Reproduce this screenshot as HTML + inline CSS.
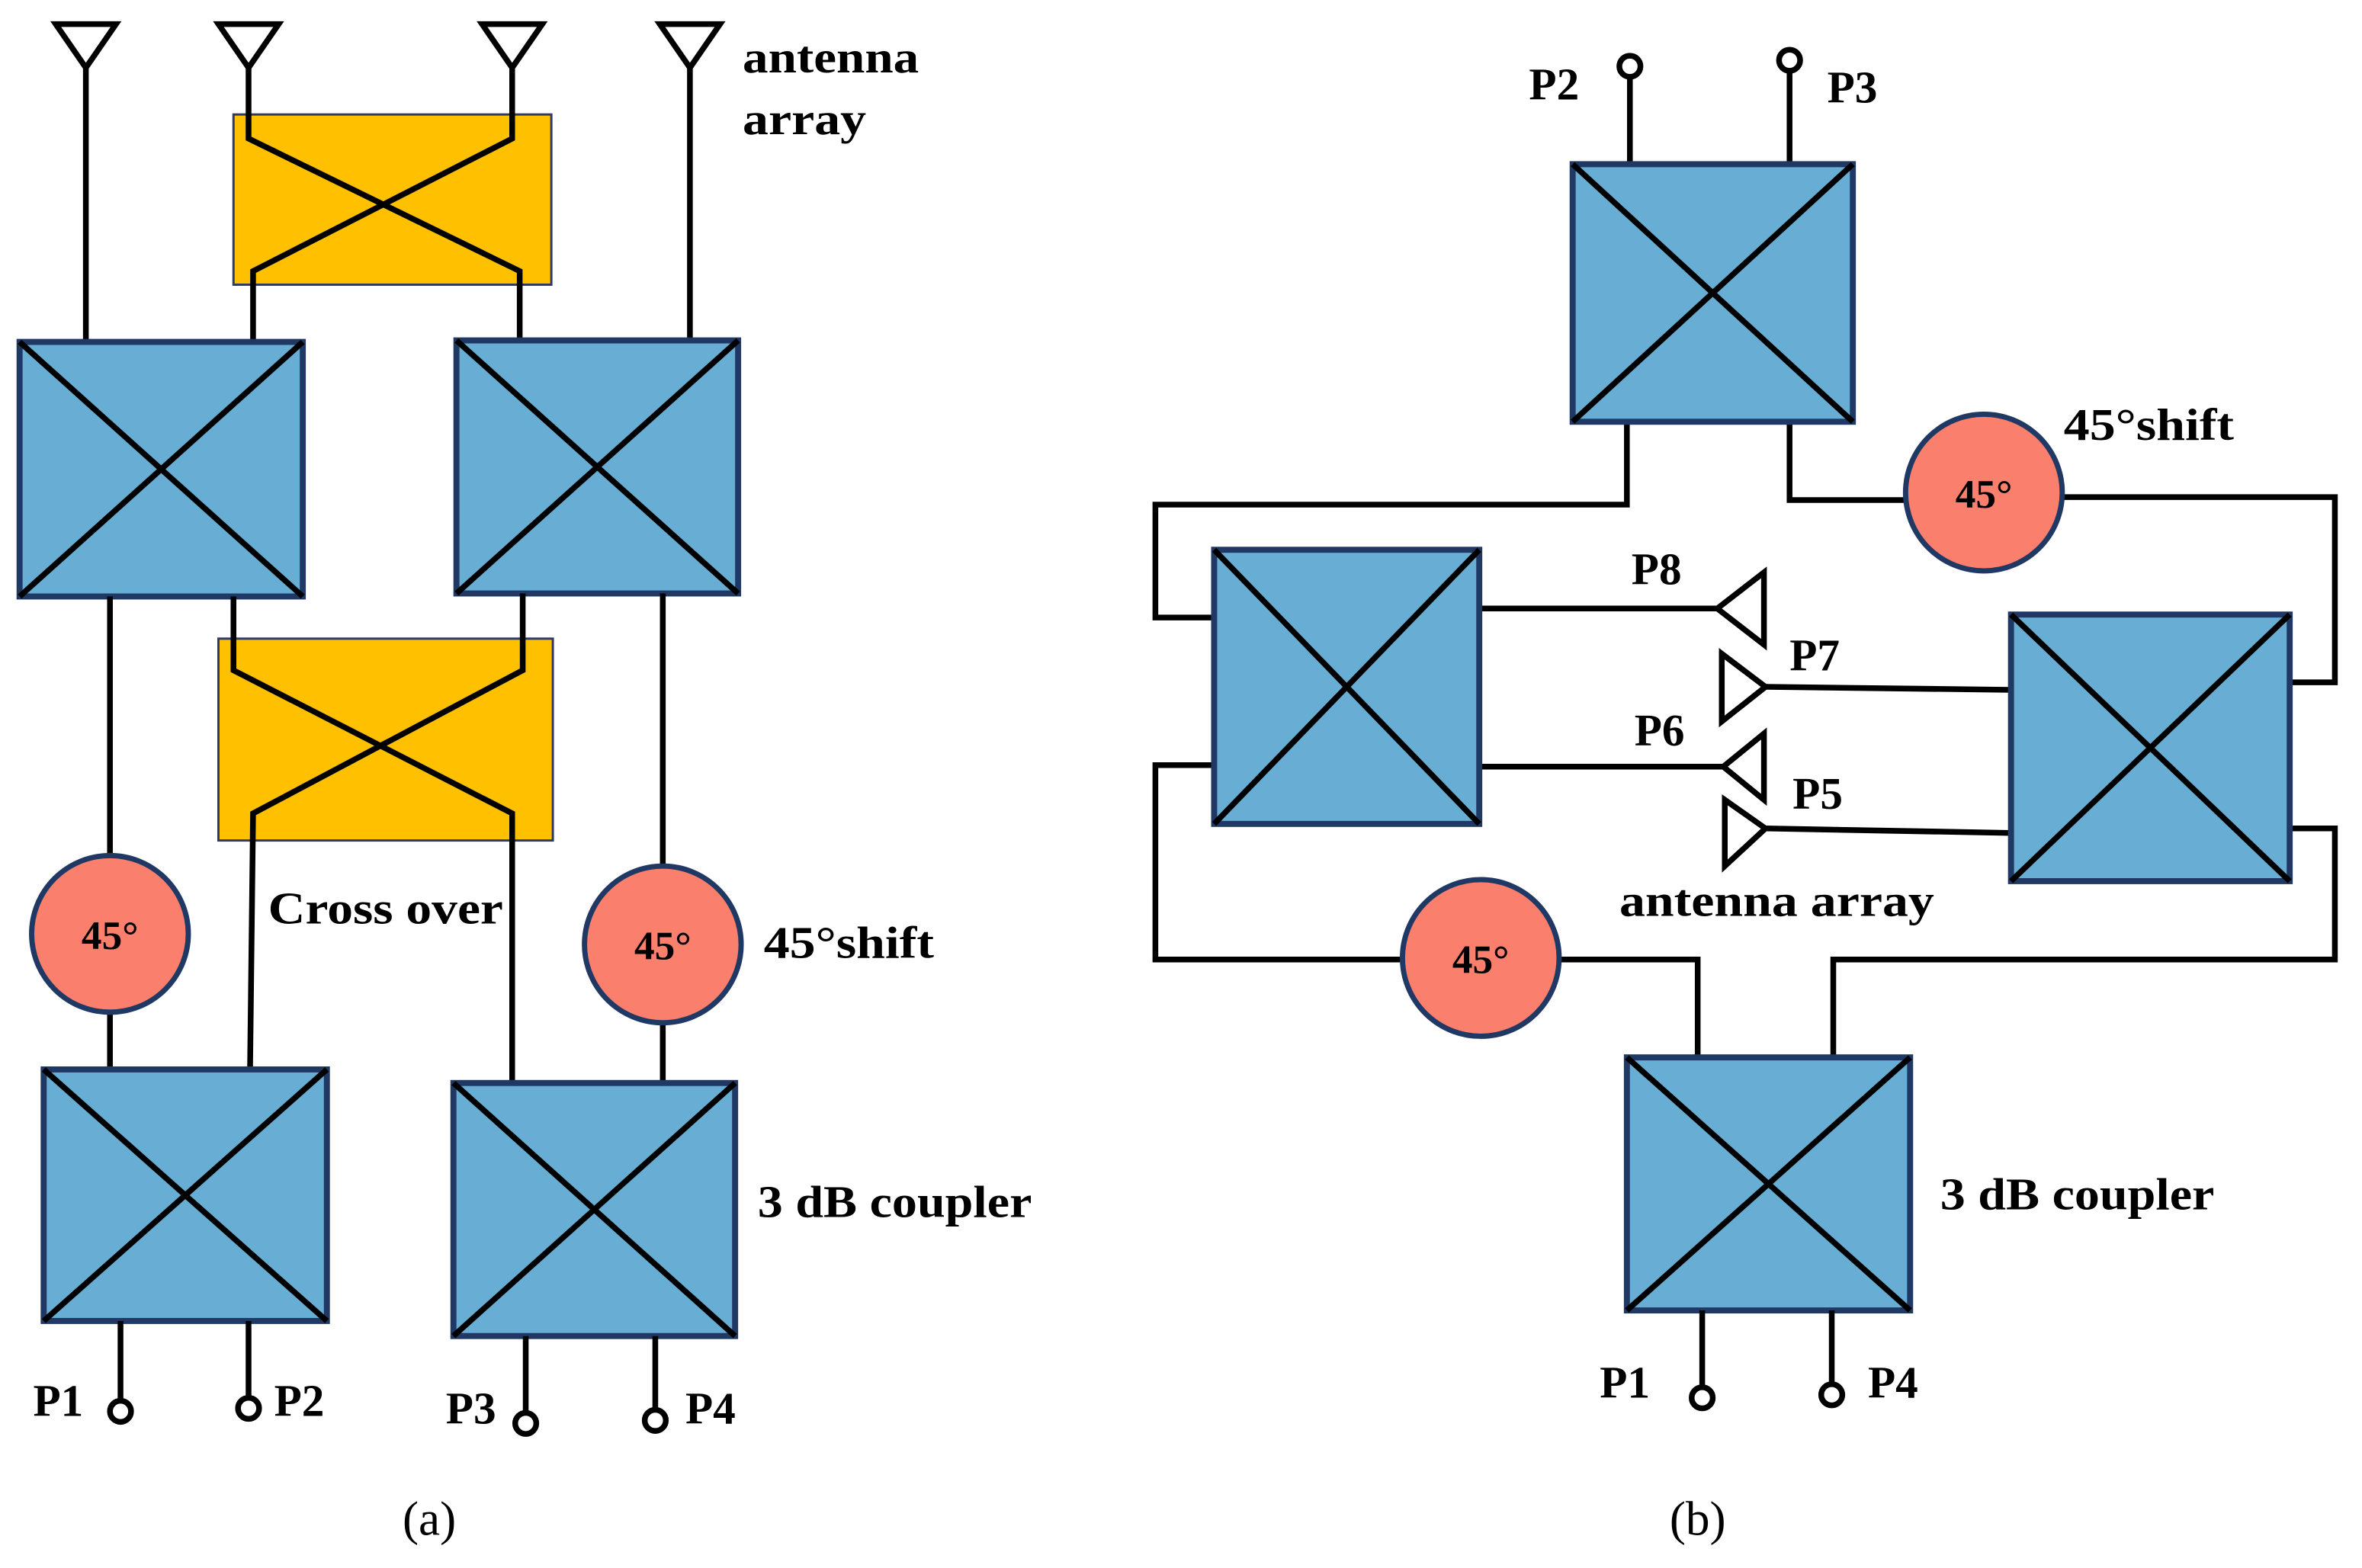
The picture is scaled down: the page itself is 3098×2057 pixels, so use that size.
<!DOCTYPE html>
<html><head><meta charset="utf-8"><style>
html,body{margin:0;padding:0;background:#fff;}
svg{display:block;}
text{font-family:"Liberation Serif",serif;font-weight:bold;fill:#000;}
</style></head><body>
<svg width="3098" height="2057" viewBox="0 0 1568 1041" preserveAspectRatio="none" xmlns="http://www.w3.org/2000/svg">
<g stroke="#000" stroke-width="3.8" fill="none" stroke-linejoin="miter">
<polygon points="37,16 77,16 57,45"/><polygon points="145,16 185,16 165,45"/>
<polygon points="320,16 360,16 340,45"/><polygon points="438,16 478,16 458,45"/>
<line x1="57" y1="45" x2="57" y2="228"/><line x1="458" y1="45" x2="458" y2="228"/>
<rect x="155" y="76" width="211" height="113" fill="#FFC000" stroke="#2E3B5E" stroke-width="1.5"/>
<polyline points="165,45 165,92 345,180 345,228"/>
<polyline points="340,45 340,92 168,180 168,228"/>
<rect x="13" y="227" width="188" height="169" fill="#68AED4" stroke="#1F3864" stroke-width="4"/>
<line x1="13" y1="227" x2="201" y2="396"/><line x1="201" y1="227" x2="13" y2="396"/>
<rect x="303" y="226" width="187" height="168" fill="#68AED4" stroke="#1F3864" stroke-width="4"/>
<line x1="303" y1="226" x2="490" y2="394"/><line x1="490" y1="226" x2="303" y2="394"/>
<rect x="145" y="424" width="222" height="134" fill="#FFC000" stroke="#2E3B5E" stroke-width="1.5"/>
<polyline points="155,396 155,445 340,540 340,719"/>
<polyline points="347,394 347,445 168,540 166,710"/>
<line x1="73" y1="396" x2="73" y2="568"/><line x1="73" y1="672" x2="73" y2="710"/>
<line x1="440" y1="394" x2="440" y2="575"/><line x1="440" y1="679" x2="440" y2="719"/>
<circle cx="73" cy="620" r="52" fill="#FA7F6C" stroke="#1F3864" stroke-width="3.5"/>
<circle cx="440" cy="627" r="52" fill="#FA7F6C" stroke="#1F3864" stroke-width="3.5"/>
<rect x="29" y="710" width="188" height="167" fill="#68AED4" stroke="#1F3864" stroke-width="4"/>
<line x1="29" y1="710" x2="217" y2="877"/><line x1="217" y1="710" x2="29" y2="877"/>
<rect x="301" y="719" width="187" height="168" fill="#68AED4" stroke="#1F3864" stroke-width="4"/>
<line x1="301" y1="719" x2="488" y2="887"/><line x1="488" y1="719" x2="301" y2="887"/>
<line x1="80" y1="877" x2="80" y2="930"/><circle cx="80" cy="937" r="7"/>
<line x1="165" y1="877" x2="165" y2="928"/><circle cx="165" cy="935" r="7"/>
<line x1="349" y1="887" x2="349" y2="938"/><circle cx="349" cy="945" r="7"/>
<line x1="435" y1="887" x2="435" y2="936"/><circle cx="435" cy="943" r="7"/>

<line x1="1082" y1="109" x2="1082" y2="51"/><circle cx="1082" cy="44" r="7"/>
<line x1="1188" y1="109" x2="1188" y2="47"/><circle cx="1188" cy="40" r="7"/>
<polyline points="1080,280 1080,335 767,335 767,410 806,410"/>
<polyline points="1188,280 1188,332 1265,332"/>
<polyline points="1369,330 1550,330 1550,453 1520,453"/>
<polyline points="806,508 767,508 767,637 931,637"/>
<polyline points="1035,637 1127,637 1127,702"/>
<polyline points="1520,550 1550,550 1550,637 1217,637 1217,702"/>
<line x1="982" y1="404" x2="1140" y2="404"/>
<line x1="982" y1="509" x2="1144" y2="509"/>
<line x1="1172" y1="456" x2="1335" y2="458"/>
<line x1="1172" y1="550" x2="1335" y2="553"/>
<polygon points="1140,404 1171,380 1171,428"/>
<polygon points="1144,509 1171,487 1171,531"/>
<polygon points="1172,456 1143,434 1143,479"/>
<polygon points="1172,550 1145,531 1145,575"/>
<rect x="1044" y="109" width="186" height="171" fill="#68AED4" stroke="#1F3864" stroke-width="4"/>
<line x1="1044" y1="109" x2="1230" y2="280"/><line x1="1230" y1="109" x2="1044" y2="280"/>
<rect x="806" y="365" width="176" height="182" fill="#68AED4" stroke="#1F3864" stroke-width="4"/>
<line x1="806" y1="365" x2="982" y2="547"/><line x1="982" y1="365" x2="806" y2="547"/>
<rect x="1335" y="408" width="185" height="177" fill="#68AED4" stroke="#1F3864" stroke-width="4"/>
<line x1="1335" y1="408" x2="1520" y2="585"/><line x1="1520" y1="408" x2="1335" y2="585"/>
<rect x="1080" y="702" width="188" height="168" fill="#68AED4" stroke="#1F3864" stroke-width="4"/>
<line x1="1080" y1="702" x2="1268" y2="870"/><line x1="1268" y1="702" x2="1080" y2="870"/>
<circle cx="1317" cy="327" r="52" fill="#FA7F6C" stroke="#1F3864" stroke-width="3.5"/>
<circle cx="983" cy="636" r="52" fill="#FA7F6C" stroke="#1F3864" stroke-width="3.5"/>
<line x1="1130" y1="870" x2="1130" y2="921"/><circle cx="1130" cy="928" r="7"/>
<line x1="1216" y1="870" x2="1216" y2="919"/><circle cx="1216" cy="926" r="7"/>
</g>
<g font-size="30">
<text x="493" y="48" textLength="117" lengthAdjust="spacingAndGlyphs">antenna</text>
<text x="493" y="89" textLength="82" lengthAdjust="spacingAndGlyphs">array</text>
<text x="178" y="613" textLength="156" lengthAdjust="spacingAndGlyphs">Cross over</text>
<text x="507" y="636" textLength="113" lengthAdjust="spacingAndGlyphs">45°shift</text>
<text x="503" y="808" textLength="182" lengthAdjust="spacingAndGlyphs">3 dB coupler</text>
<text x="22" y="940">P1</text><text x="182" y="940">P2</text>
<text x="296" y="945">P3</text><text x="455" y="945">P4</text>
<text x="1015" y="66">P2</text><text x="1213" y="68">P3</text>
<text x="1370" y="292" textLength="113" lengthAdjust="spacingAndGlyphs">45°shift</text>
<text x="1083" y="388">P8</text><text x="1188" y="445">P7</text>
<text x="1085" y="495">P6</text><text x="1190" y="537">P5</text>
<text x="1075" y="608" textLength="209" lengthAdjust="spacingAndGlyphs">antenna array</text>
<text x="1288" y="803" textLength="182" lengthAdjust="spacingAndGlyphs">3 dB coupler</text>
<text x="1062" y="928">P1</text><text x="1240" y="928">P4</text>
</g>
<g font-size="27" text-anchor="middle">
<text x="73" y="630">45°</text><text x="440" y="637">45°</text>
<text x="1317" y="337">45°</text><text x="983" y="646">45°</text>
</g>
<g font-size="32" text-anchor="middle">
<text x="285" y="1019" style="font-weight:normal">(a)</text>
<text x="1127" y="1019" style="font-weight:normal">(b)</text>
</g>
</svg>
</body></html>
